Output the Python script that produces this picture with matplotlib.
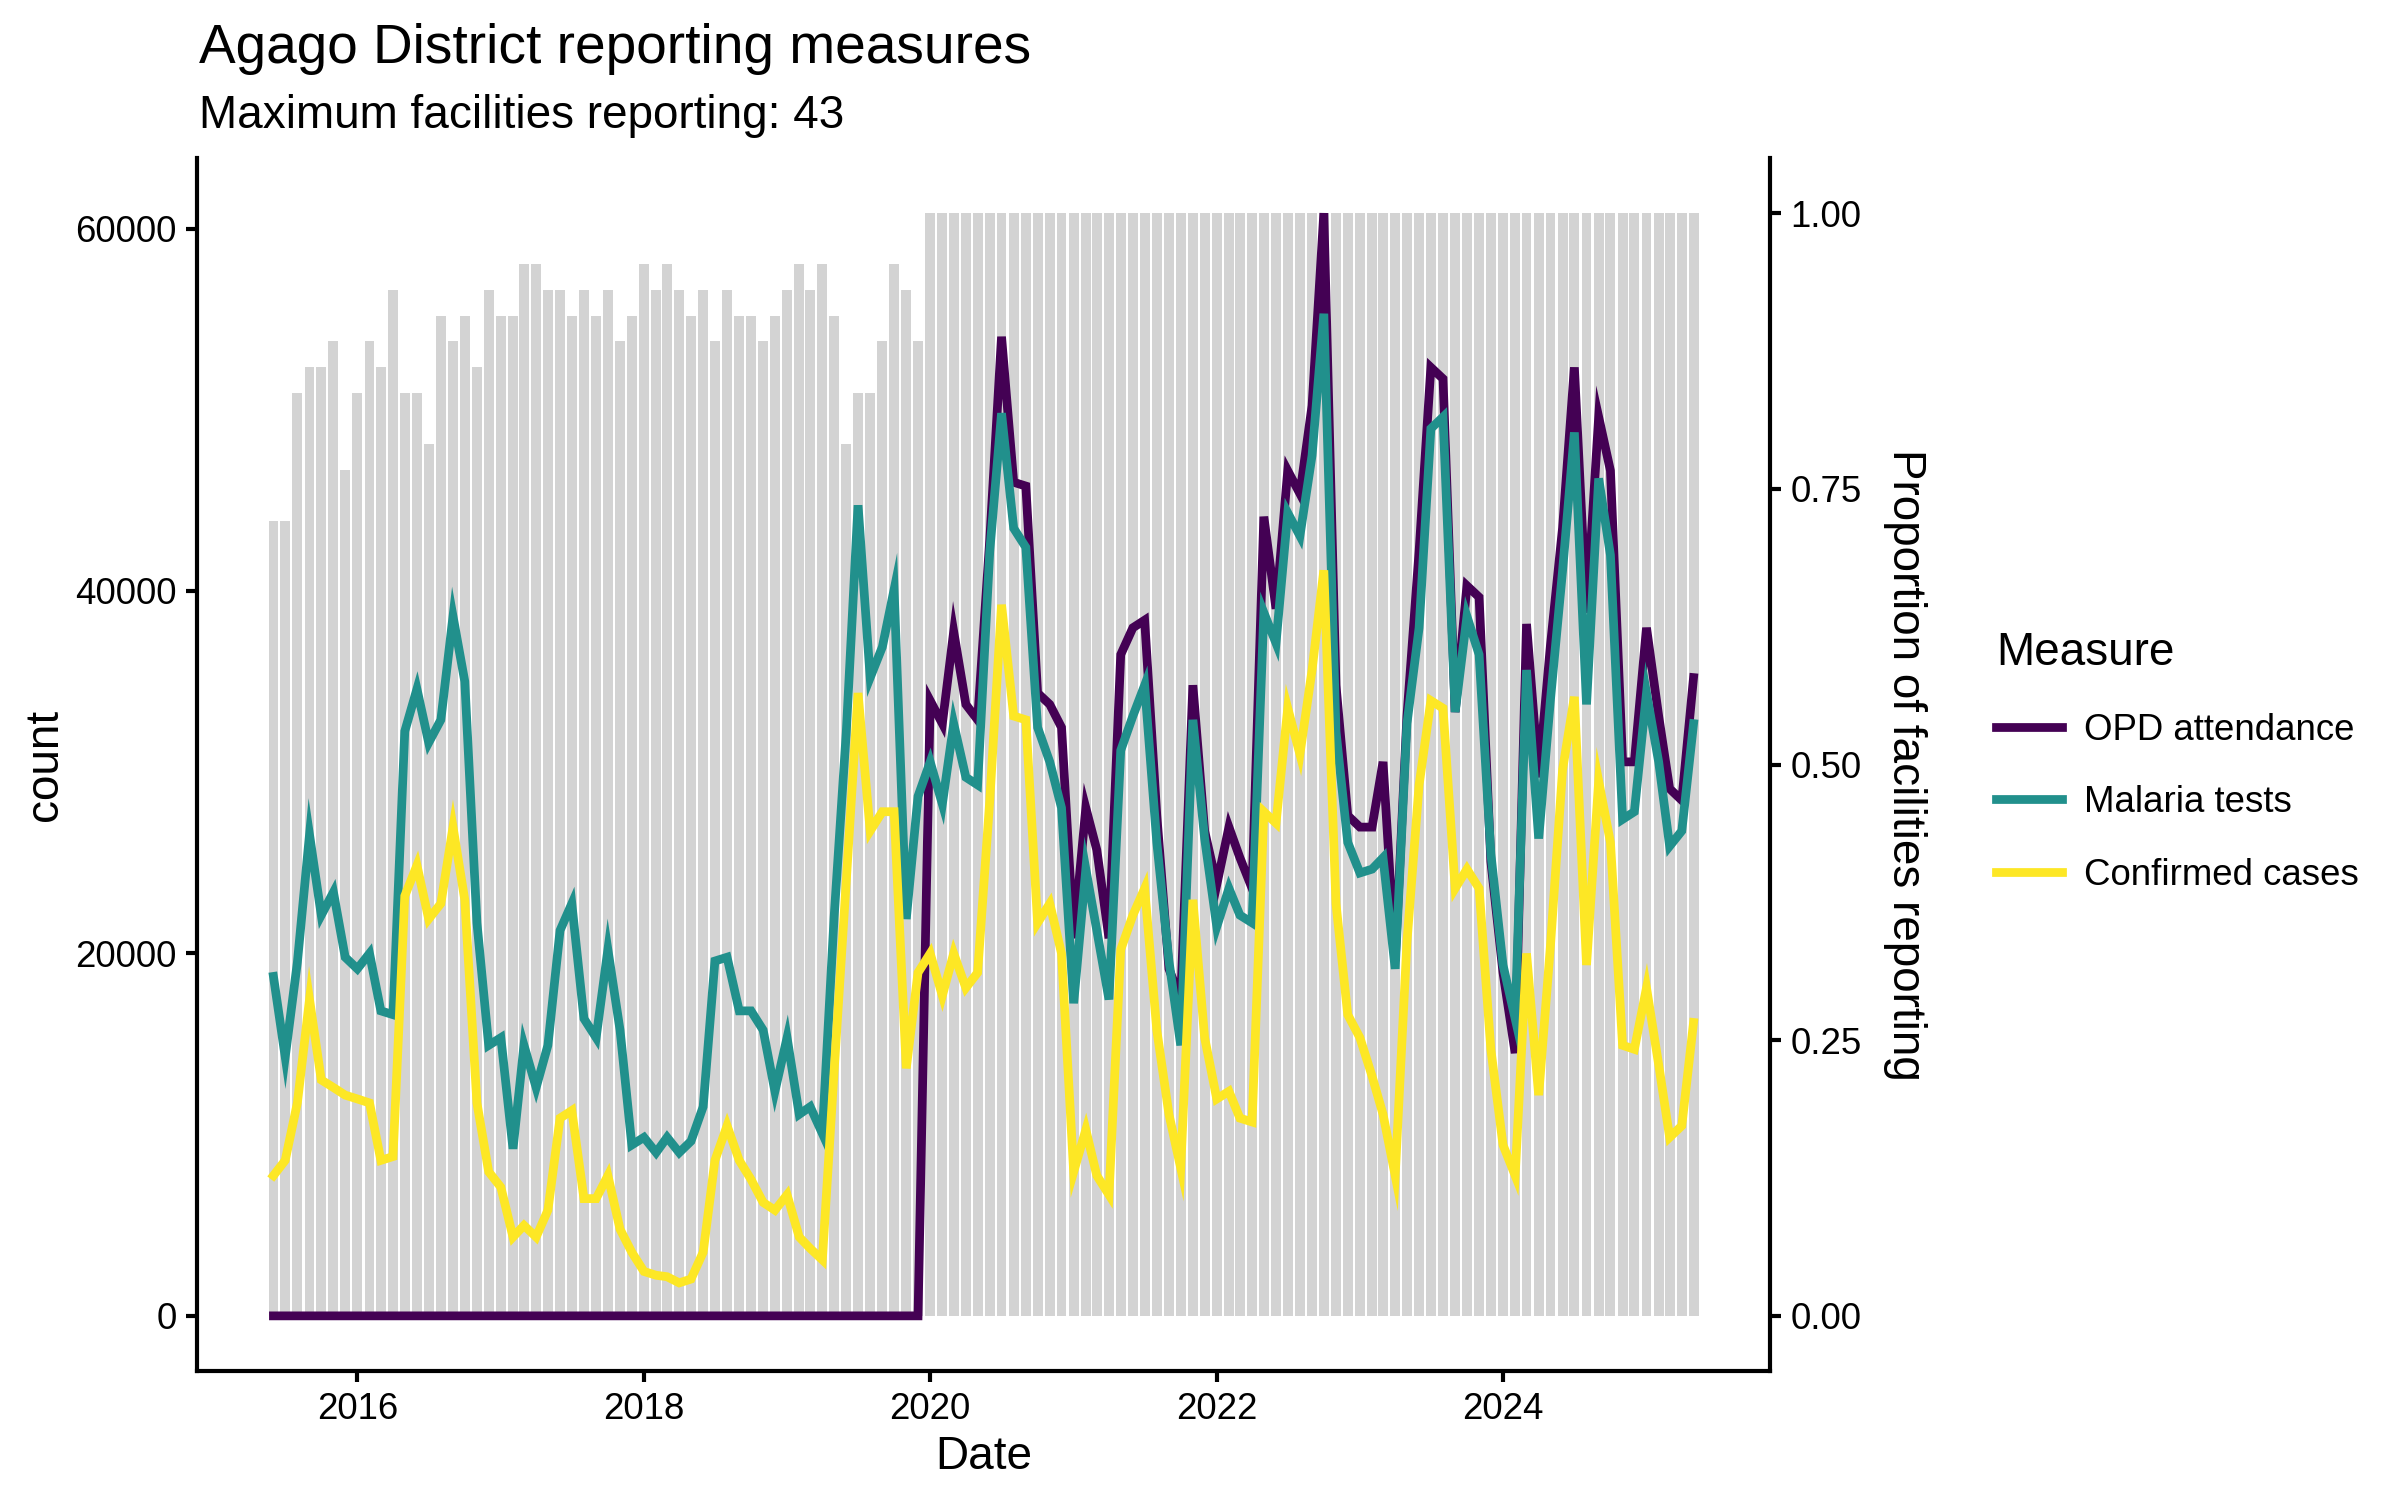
import pandas as pd
import matplotlib
matplotlib.use('Agg')
import matplotlib.pyplot as plt
import matplotlib.dates as mdates
from matplotlib.lines import Line2D

plt.rcParams['font.family'] = ['Liberation Sans', 'DejaVu Sans']

# 月度数据 2015-06 ~ 2025-05
months = pd.date_range('2015-06-01', '2025-05-01', freq='MS')

max_facilities = 43
facilities = [
    31, 31, 36, 37, 37, 38, 33, 36, 38, 37, 40, 36,
    36, 34, 39, 38, 39, 37, 40, 39, 39, 41, 41, 40,
    40, 39, 40, 39, 40, 38, 39, 41, 40, 41, 40, 39,
    40, 38, 40, 39, 39, 38, 39, 40, 41, 40, 41, 39,
    34, 36, 36, 38, 41, 40, 38, 43, 43, 43, 43, 43,
    43, 43, 43, 43, 43, 43, 43, 43, 43, 43, 43, 43,
    43, 43, 43, 43, 43, 43, 43, 43, 43, 43, 43, 43,
    43, 43, 43, 43, 43, 43, 43, 43, 43, 43, 43, 43,
    43, 43, 43, 43, 43, 43, 43, 43, 43, 43, 43, 43,
    43, 43, 43, 43, 43, 43, 43, 43, 43, 43, 43, 43,
]

opd_attendance = [
    0, 0, 0, 0, 0, 0, 0, 0, 0, 0, 0, 0,
    0, 0, 0, 0, 0, 0, 0, 0, 0, 0, 0, 0,
    0, 0, 0, 0, 0, 0, 0, 0, 0, 0, 0, 0,
    0, 0, 0, 0, 0, 0, 0, 0, 0, 0, 0, 0,
    0, 0, 0, 0, 0, 0, 0, 33950, 32680, 37760, 33740, 32890,
    42830, 54030, 46000, 45790, 34370, 33740, 32470, 20840, 28030, 25710, 20840, 36490,
    37970, 38390, 27610, 19150, 17460, 34800, 26760, 23800, 26970, 25280, 23590, 44100,
    39020, 46640, 45370, 50230, 60850, 34800, 27610, 26970, 26970, 30570, 19580, 33100,
    42200, 52340, 51710, 33320, 40290, 39660, 25070, 18940, 14500, 38180, 29720, 37000,
    43500, 52340, 38800, 49600, 46640, 30570, 30570, 37970, 33100, 29090, 28450, 35220,
]

malaria_tests = [
    18730, 14290, 19500, 26550, 22110, 23380, 19790, 19150, 20000, 16830, 16620, 32260,
    34590, 31630, 32890, 38600, 35010, 21690, 14930, 15350, 9220, 14930, 12600, 14930,
    21270, 22750, 16400, 15350, 20210, 15770, 9430, 9850, 9010, 9850, 9010, 9640,
    11540, 19580, 19790, 16830, 16830, 15770, 12390, 15350, 11120, 11540, 10060, 22000,
    32200, 44730, 35220, 36910, 40080, 21900, 28670, 30570, 28240, 32680, 29720, 29300,
    42200, 49810, 43460, 42410, 32470, 30570, 28030, 17250, 24650, 21270, 17460, 31200,
    33100, 34800, 26130, 19580, 14930, 32890, 26340, 21480, 23590, 22110, 21690, 38810,
    37120, 44310, 43040, 47480, 55300, 32260, 26130, 24440, 24650, 25280, 19150, 32680,
    37970, 48960, 49600, 33320, 38600, 36490, 25500, 19360, 16400, 35640, 26340, 34000,
    41140, 48750, 33740, 46210, 41980, 27400, 27820, 34370, 30570, 25920, 26760, 32680,
]

confirmed_cases = [
    7740, 8580, 11750, 17460, 13020, 12600, 12180, 11970, 11750, 8580, 8790, 23170,
    24860, 21900, 22750, 26970, 22960, 11750, 7950, 7100, 4350, 4990, 4350, 5830,
    10910, 11330, 6470, 6470, 7740, 4780, 3510, 2450, 2240, 2160, 1820, 2030,
    3510, 8580, 10490, 8580, 7530, 6260, 5830, 6680, 4350, 3720, 3090, 13500,
    24000, 34370, 26760, 27820, 27820, 13660, 18940, 20000, 17670, 20000, 18100, 18940,
    28450, 39240, 33100, 32890, 21690, 22750, 20000, 7950, 10270, 7740, 6680, 20210,
    22110, 23590, 15770, 11120, 8160, 22960, 15350, 11970, 12390, 10910, 10700, 27820,
    27190, 33530, 30990, 35640, 41140, 22750, 16620, 15350, 13230, 11120, 7740, 20630,
    29300, 33950, 33530, 23590, 24650, 23590, 14710, 9430, 7740, 20000, 12180, 20420,
    30150, 34160, 19360, 29510, 26130, 14930, 14710, 18100, 13870, 9850, 10490, 16190,
]

measures = ['OPD attendance', 'Malaria tests', 'Confirmed cases']
colors = ['#440154', '#21908C', '#FDE725']

df = pd.DataFrame({
    'date': months,
    'facilities': facilities,
    'OPD attendance': opd_attendance,
    'Malaria tests': malaria_tests,
    'Confirmed cases': confirmed_cases,
})
df['prop'] = df['facilities'] / max_facilities

# 次坐标轴的比例: 比例 1 对应最大计数
scale = df[measures].max().max()

fig = plt.figure(figsize=(8, 5), dpi=300)
ax = fig.add_axes([197 / 2400, 1 - 1371 / 1500, (1770 - 197) / 2400, (1371 - 158) / 1500])

bar_days = 25.2
ax.bar(df['date'], df['prop'] * scale, width=bar_days, color='#D3D3D3', zorder=1)

lw = 2.1
for m, c in zip(measures, colors):
    ax.plot(df['date'], df[m], color=c, linewidth=lw, zorder=2, solid_joinstyle='miter')

# ggplot 风格的 5% 扩展
x0 = mdates.date2num(df['date'].iloc[0]) - bar_days / 2
x1 = mdates.date2num(df['date'].iloc[-1]) + bar_days / 2
dx = (x1 - x0) * 0.05
ax.set_xlim(x0 - dx, x1 + dx)
ax.set_ylim(-0.05 * scale, 1.05 * scale)

ax.set_yticks([0, 20000, 40000, 60000])
ax.set_yticklabels(['0', '20000', '40000', '60000'])
ax.xaxis.set_major_locator(mdates.YearLocator(2))
ax.xaxis.set_major_formatter(mdates.DateFormatter('%Y'))

for s in ['top', 'right']:
    ax.spines[s].set_visible(False)
for s in ['left', 'bottom']:
    ax.spines[s].set_linewidth(1.0)
ax.tick_params(axis='both', direction='out', length=2.75, width=1.0,
               labelsize=8.8, labelcolor='black', pad=2.2)

ax.set_xlabel('Date', fontsize=11, labelpad=2)
ax.set_ylabel('count', fontsize=11, labelpad=2)

sec = ax.secondary_yaxis('right', functions=(lambda y: y / scale, lambda p: p * scale))
sec.set_yticks([0, 0.25, 0.5, 0.75, 1.0])
sec.set_yticklabels(['0.00', '0.25', '0.50', '0.75', '1.00'])
sec.spines['right'].set_linewidth(1.0)
sec.tick_params(axis='y', direction='out', length=2.75, width=1.0,
                labelsize=8.8, labelcolor='black', pad=2.2)
sec.set_ylabel('Proportion of facilities reporting', fontsize=11, rotation=270,
               va='bottom', labelpad=5)

fig.text(199 / 2400, 1 - 63 / 1500, 'Agago District reporting measures',
         fontsize=13.2, ha='left', va='baseline')
fig.text(199 / 2400, 1 - 128 / 1500, 'Maximum facilities reporting: 43',
         fontsize=11, ha='left', va='baseline')

handles = [Line2D([0], [0], color=c, linewidth=lw) for c in colors]
leg = fig.legend(handles, measures, title='Measure', loc='center left',
                 bbox_to_anchor=(1978 / 2400, 1 - 762 / 1500), frameon=False,
                 fontsize=8.8, title_fontsize=11, handlelength=1.8,
                 handletextpad=0.6, labelspacing=1.02, borderpad=0,
                 alignment='left')

fig.savefig('out.png', dpi=300)
